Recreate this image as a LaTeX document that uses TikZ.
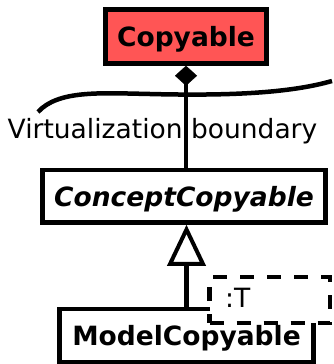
\documentclass[tikz,border=0pt]{standalone}
\usepackage{fontspec}
\setmainfont{DejaVu Sans}
\usetikzlibrary{arrows.meta}
\definecolor{redfill}{HTML}{FF5555}
\begin{document}
\begin{tikzpicture}[x=1pt,y=-1pt,
  box/.style={draw, line width=4.5pt, inner sep=0pt, text height=19.5pt, text depth=0pt,
    font=\fontsize{26.5}{30}\selectfont\bfseries},
  conn/.style={line width=4.5pt},
  plain/.style={inner sep=0pt, font=\fontsize{26.5}{30}\selectfont},
]
\useasboundingbox (0,0) rectangle (334,364);
\node[box, fill=redfill, minimum width=161pt, minimum height=54pt] (copyable) at (186,36.5) {Copyable};
\node[box, minimum width=283pt, minimum height=52.5pt] (concept) at (184,196.25) {\itshape ConceptCopyable};
\node[box, minimum width=254pt, minimum height=53pt] (model) at (186.5,335.5) {ModelCopyable};
\node[draw, fill=white, line width=4.5pt, dash pattern=on 14pt off 13pt, inner sep=0pt,
  minimum width=120.5pt, minimum height=46pt] (tparam) at (269.75,300) {};
\node[plain, anchor=base west] (tlabel) at (225,307) {:T};
\node[plain, anchor=base] (vb) at (162.5,138) {Virtualization boundary};
\draw[conn] (38,112) .. controls (58,90) and (100,93) .. (150,94)
  .. controls (230,96) and (290,93) .. (332,81);
\draw[conn, -{Diamond[length=20pt 0 0, width=22pt 0 0, line width=0.2pt]}]
  (copyable.south |- concept.north) -- (copyable.south);
\draw[conn, -{Triangle[open, length=41pt 0 0, width=38pt 0 0, line width=4pt]}]
  (model.north) -- (model.north |- concept.south);
\end{tikzpicture}
\end{document}
